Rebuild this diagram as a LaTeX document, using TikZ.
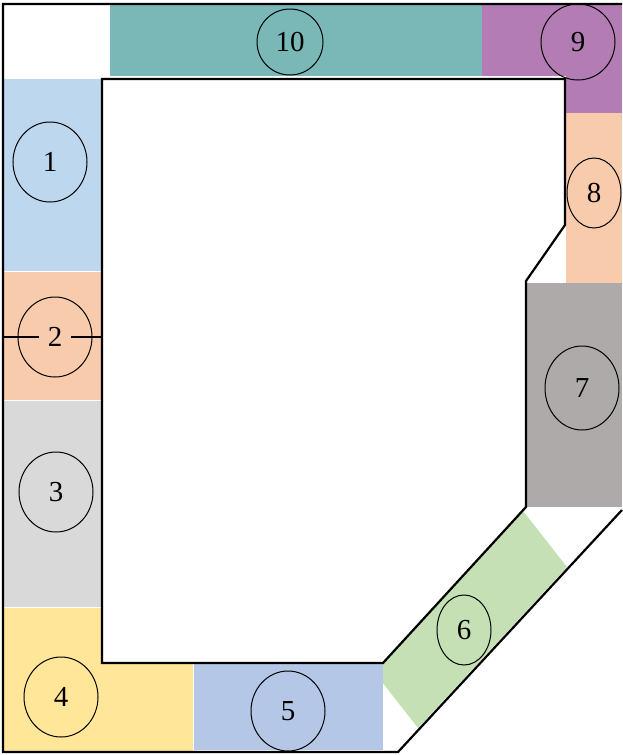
\documentclass[tikz,border=0pt]{standalone}
\usepackage{fontspec}
\setmainfont{Liberation Serif}
\usepackage{xcolor}
\usepackage{tikz}
\usetikzlibrary{shapes.geometric}
\definecolor{zteal}{RGB}{122,184,184}
\definecolor{zpurple}{RGB}{180,124,180}
\definecolor{zpeach}{RGB}{248,203,173}
\definecolor{zgrey}{RGB}{174,170,170}
\definecolor{zgreen}{RGB}{197,224,180}
\definecolor{zsky}{RGB}{189,215,238}
\definecolor{zsilver}{RGB}{217,217,217}
\definecolor{zyellow}{RGB}{255,230,153}
\definecolor{zblue}{RGB}{180,199,231}

\begin{document}
\begin{tikzpicture}[x=1pt, y=-1pt,
  wall/.style={line width=2.2pt, line join=miter},
  tag/.style={draw, ellipse, line width=1pt, inner sep=0pt,
    minimum width=74pt, minimum height=80pt,
    font=\fontsize{29}{29}\selectfont},
  slim/.style={minimum width=54pt, minimum height=70pt}]
\useasboundingbox (0,0) rectangle (622,755);
% ---- top row ----
\fill[zteal] (110,4) rectangle (482,76);
\fill[zpurple] (482,4) rectangle (622,76);
\fill[zpurple] (566,76) rectangle (622,113);
% ---- right column ----
\fill[zpeach] (566,113) rectangle (622,283);
\fill[zgrey] (526,283) rectangle (622,507);
\fill[zgreen] (523,511) -- (567,567) -- (418,728) -- (375,673) -- cycle;
% ---- left column and bottom ----
\fill[zsky] (3,79) rectangle (102,271);
\fill[zpeach] (3,272) rectangle (102,400);
\fill[zsilver] (3,401) rectangle (102,607);
\fill[zyellow] (3,608) -- (102,608) -- (102,664) -- (193,664)
  -- (193,752) -- (3,752) -- cycle;
\fill[zblue] (194,664) rectangle (383,750);
% ---- walls ----
\draw[wall] (622,4) -- (3,4) -- (3,752) -- (398,752) -- (622,510);
\draw[wall] (102,79) -- (565,79) -- (565,225) -- (526,281) -- (526,507)
  -- (383,663) -- (102,663) -- cycle;
% ---- numbered zones ----
\node[tag] (z1) at (50,162) {1};
\node[tag] (z2) at (55,337) {};
\node[inner xsep=9pt, font=\fontsize{29}{29}\selectfont] (n2) at (55,337) {2};
\node[tag] (z3) at (56,492) {3};
\node[tag] (z4) at (61,697) {4};
\node[tag] (z5) at (288,711) {5};
\node[tag, slim] (z6) at (464,630) {6};
\node[tag, minimum height=84pt] (z7) at (582,388) {7};
\node[tag, slim] (z8) at (594,193) {8};
\node[tag, minimum height=76pt] (z9) at (578,42) {9};
\node[tag, minimum width=66pt, minimum height=66pt] (z10) at (290,42) {10};
% cut line through zone 2
\coordinate (w2) at (3,337);
\coordinate (e2) at (102,337);
\draw[line width=1.4pt] (w2) -- (n2) -- (e2);
\end{tikzpicture}
\end{document}
